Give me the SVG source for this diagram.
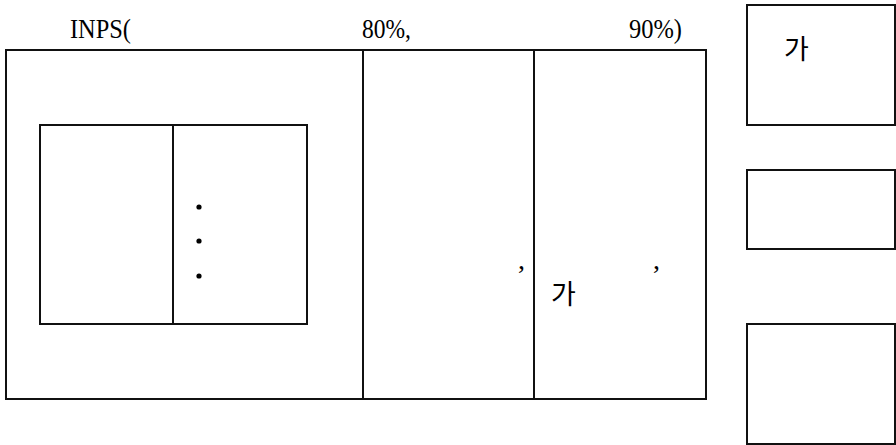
<svg xmlns="http://www.w3.org/2000/svg" width="896" height="445" viewBox="0 0 896 445">
<style>
.box{fill:none;stroke:#111;stroke-width:2}
.ln{stroke:#111;stroke-width:2}
.ser{font-family:"Liberation Serif","Times New Roman",serif;font-size:28px;fill:#000}
.kr{font-family:"Noto Sans CJK KR","Noto Sans",sans-serif;font-size:27px;font-weight:400;fill:#000}
</style>
<rect width="896" height="445" fill="#fff"/>
<g id="title">
<text class="ser" x="70" y="38" textLength="61" lengthAdjust="spacingAndGlyphs">INPS(</text>
<text class="ser" x="362" y="38" textLength="49" lengthAdjust="spacingAndGlyphs">80%,</text>
<text class="ser" x="629" y="38" textLength="53" lengthAdjust="spacingAndGlyphs">90%)</text>
</g>
<g id="main">
<rect class="box" x="6" y="50" width="700" height="349"/>
<line class="ln" x1="363" y1="50" x2="363" y2="399"/>
<line class="ln" x1="534" y1="50" x2="534" y2="399"/>
<text class="ser" x="518" y="269">,</text>
<text class="ser" x="653" y="269">,</text>
<text class="kr" x="551" y="304">가</text>
</g>
<g id="inner">
<rect class="box" x="40" y="125" width="267" height="199"/>
<line class="ln" x1="173" y1="125" x2="173" y2="324"/>
<circle cx="199" cy="207" r="2.6" fill="#000"/>
<circle cx="199" cy="241" r="2.6" fill="#000"/>
<circle cx="199" cy="276" r="2.6" fill="#000"/>
</g>
<g id="box1">
<rect class="box" x="747" y="5" width="148" height="120"/>
<text class="kr" x="784" y="59">가</text>
</g>
<g id="box2">
<rect class="box" x="747" y="170" width="148" height="79"/>
</g>
<g id="box3">
<rect class="box" x="747" y="324" width="148" height="120"/>
</g>
<g id="connectors"/>
</svg>
